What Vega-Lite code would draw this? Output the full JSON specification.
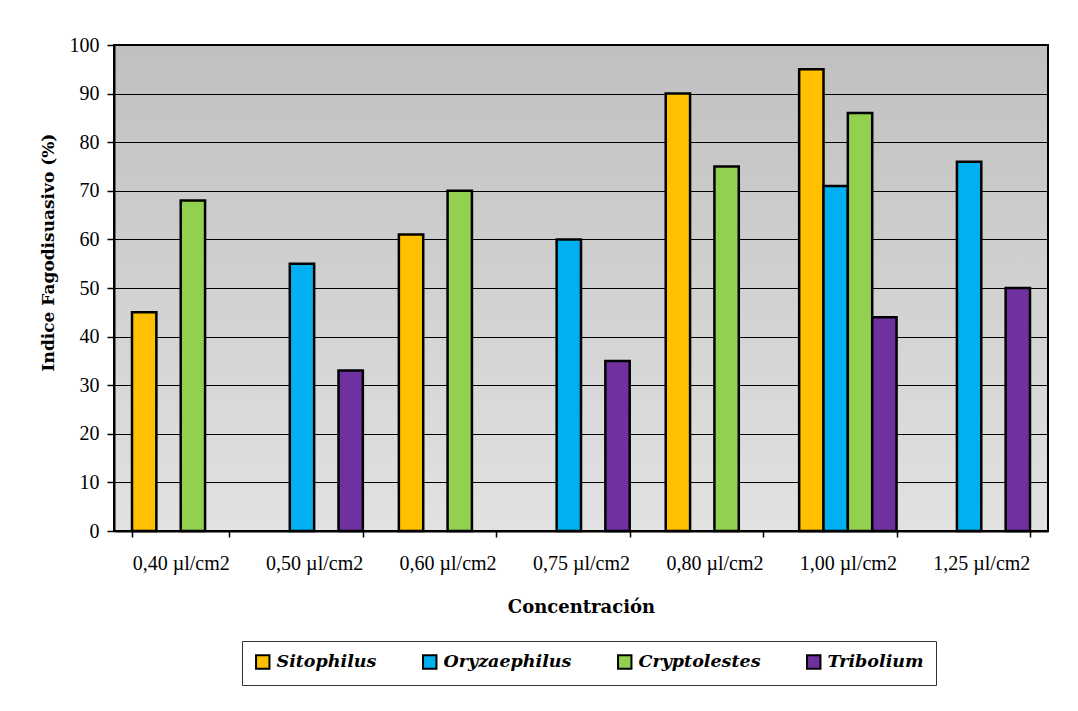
{
  "$schema": "https://vega.github.io/schema/vega-lite/v6.json",
  "width": 934,
  "height": 486,
  "autosize": {"type": "none"},
  "padding": {"left": 114, "top": 45, "right": 30, "bottom": 180},
  "background": "white",
  "config": {
    "font": "Liberation Serif",
    "view": {
      "stroke": "black",
      "strokeWidth": 2,
      "fill": {"gradient": "linear", "x1": 0, "y1": 0, "x2": 0, "y2": 1, "stops": [{"offset": 0, "color": "#c0c0c0"}, {"offset": 1, "color": "#e2e2e2"}]}
    }
  },
  "data": {
    "values": [
      {"conc": "0,40 µl/cm2", "species": "Sitophilus", "value": 45},
      {"conc": "0,40 µl/cm2", "species": "Cryptolestes", "value": 68},
      {"conc": "0,50 µl/cm2", "species": "Oryzaephilus", "value": 55},
      {"conc": "0,50 µl/cm2", "species": "Tribolium", "value": 33},
      {"conc": "0,60 µl/cm2", "species": "Sitophilus", "value": 61},
      {"conc": "0,60 µl/cm2", "species": "Cryptolestes", "value": 70},
      {"conc": "0,75 µl/cm2", "species": "Oryzaephilus", "value": 60},
      {"conc": "0,75 µl/cm2", "species": "Tribolium", "value": 35},
      {"conc": "0,80 µl/cm2", "species": "Sitophilus", "value": 90},
      {"conc": "0,80 µl/cm2", "species": "Cryptolestes", "value": 75},
      {"conc": "1,00 µl/cm2", "species": "Sitophilus", "value": 95},
      {"conc": "1,00 µl/cm2", "species": "Oryzaephilus", "value": 71},
      {"conc": "1,00 µl/cm2", "species": "Cryptolestes", "value": 86},
      {"conc": "1,00 µl/cm2", "species": "Tribolium", "value": 44},
      {"conc": "1,25 µl/cm2", "species": "Oryzaephilus", "value": 76},
      {"conc": "1,25 µl/cm2", "species": "Tribolium", "value": 50}
    ]
  },
  "mark": {"type": "bar", "stroke": "black", "strokeWidth": 2.5},
  "encoding": {
    "x": {
      "field": "conc",
      "type": "nominal",
      "sort": null,
      "scale": {"paddingInner": 0.27, "paddingOuter": 0.135},
      "axis": {
        "title": "Concentración",
        "titleFont": "DejaVu Serif",
        "titleFontSize": 18,
        "titleFontWeight": "bold",
        "titleColor": "black",
        "titlePadding": 25,
        "labelAngle": 0,
        "labelFont": "Liberation Serif",
        "labelFontSize": 20,
        "labelColor": "black",
        "labelPadding": 16,
        "tickBand": "extent",
        "tickColor": "black",
        "tickSize": 6,
        "tickWidth": 1.5,
        "domainColor": "black",
        "domainWidth": 2,
        "grid": false
      }
    },
    "xOffset": {
      "field": "species",
      "type": "nominal",
      "scale": {"domain": ["Sitophilus", "Oryzaephilus", "Cryptolestes", "Tribolium"], "paddingInner": 0, "paddingOuter": 0}
    },
    "y": {
      "field": "value",
      "type": "quantitative",
      "scale": {"domain": [0, 100], "nice": false},
      "axis": {
        "title": "Indice Fagodisuasivo (%)",
        "titleFont": "DejaVu Serif",
        "titleFontSize": 17,
        "titleFontWeight": "bold",
        "titleColor": "black",
        "titlePadding": 12,
        "titleY": 207,
        "titleAnchor": "middle",
        "values": [0, 10, 20, 30, 40, 50, 60, 70, 80, 90, 100],
        "labelFont": "Liberation Serif",
        "labelFontSize": 20,
        "labelColor": "black",
        "labelPadding": 8,
        "tickColor": "black",
        "tickSize": 7,
        "tickWidth": 1.5,
        "domainColor": "black",
        "domainWidth": 2,
        "grid": true,
        "gridColor": "black",
        "gridWidth": 1.2,
        "gridOpacity": 1
      }
    },
    "color": {
      "field": "species",
      "type": "nominal",
      "scale": {"domain": ["Sitophilus", "Oryzaephilus", "Cryptolestes", "Tribolium"], "range": ["#FFC000", "#00B0F0", "#92D050", "#7030A0"]},
      "legend": {
        "title": null,
        "orient": "none",
        "legendX": 128,
        "legendY": 596,
        "direction": "horizontal",
        "columns": 4,
        "columnPadding": 42,
        "strokeColor": "#333",
        "padding": 12,
        "symbolType": "square",
        "symbolSize": 180,
        "symbolStrokeColor": "black",
        "symbolStrokeWidth": 2,
        "symbolOpacity": 1,
        "labelFont": "DejaVu Serif",
        "labelFontSize": 17.5,
        "labelFontStyle": "italic",
        "labelFontWeight": "bold",
        "labelColor": "black",
        "labelOffset": 5,
        "labelLimit": 300
      }
    }
  }
}
